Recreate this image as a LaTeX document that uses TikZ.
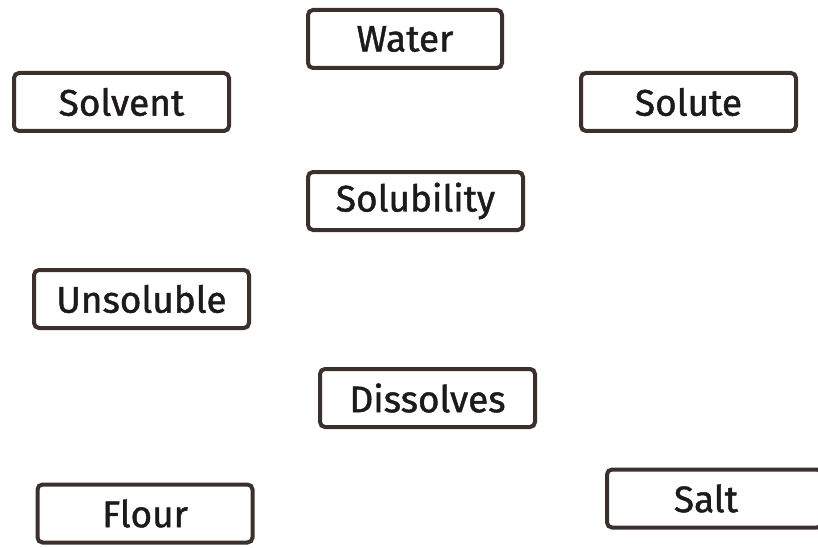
\documentclass[tikz,border=0pt]{standalone}
\usepackage{fontspec}
\setmainfont{Fira Sans}
\newfontfamily\termfont{Fira Sans}[FakeBold=1.2]
\usepackage{tikz}
\definecolor{boxline}{HTML}{3B302C}
\definecolor{termtext}{HTML}{1C1A1A}

\begin{document}
\begin{tikzpicture}[x=1pt,y=-1pt]
	\tikzstyle{term}=[draw=boxline, line width=4pt, rounded corners=5pt, minimum width=215pt, minimum height=58pt, inner sep=0pt, text=termtext, font=\termfont\fontsize{37}{40}\selectfont]
	\useasboundingbox (0,0) rectangle (818,548);
	\clip (0,0) rectangle (818,548);
	\node[term, minimum width=194pt] (water) at (405,39) {Water};
	\node[term] (solvent) at (121.5,102) {Solvent};
	\node[term] (solute) at (688.5,102) {Solute};
	\node[term] (solubility) at (415.5,201) {Solubility};
	\node[term] (unsoluble) at (141.5,299) {Unsoluble};
	\node[term] (dissolves) at (427.5,398) {Dissolves};
	\node[term] (flour) at (145,513.5) {Flour};
	\node[term] (salt) at (714.5,498.5) {\hspace*{-17pt}Salt};
\end{tikzpicture}
\end{document}
